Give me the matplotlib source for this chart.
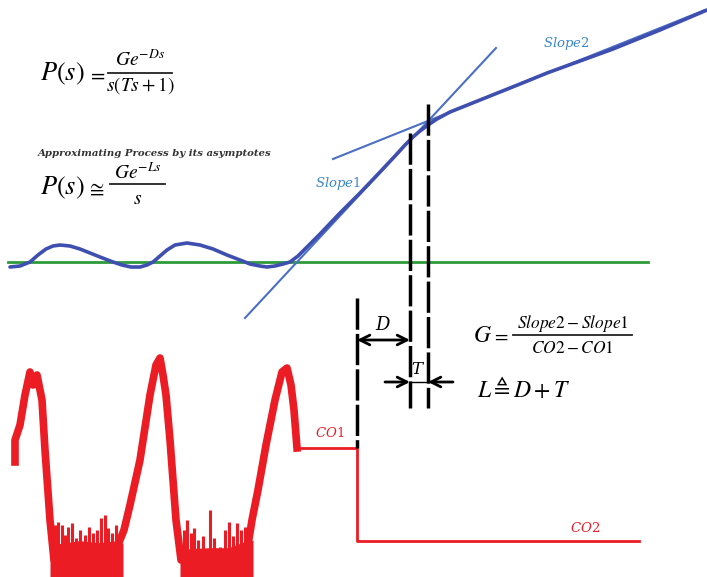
import matplotlib.pyplot as plt

plt.rcParams['mathtext.fontset'] = 'dejavuserif'

# measured process output (blue) - image pixel units
blue_x = [10, 20, 30, 38, 46, 53, 60, 70, 80, 90, 100, 113, 122, 131, 140, 147, 153, 160, 167, 175,
          187, 200, 213, 227, 240, 250, 260, 267, 275, 283, 290, 298, 307, 320, 340, 360, 380, 395,
          405, 413, 420, 428, 437, 450, 465, 480, 500, 520, 547, 580, 613, 660, 707]
blue_y = [267, 266, 262, 255, 249, 246, 245, 246, 249, 253, 257, 262, 265, 267, 267, 265, 262, 256, 250, 245,
          243, 245, 249, 255, 260, 264, 266, 267, 266, 264, 262, 256, 247, 234, 213, 193, 172, 156,
          145, 137, 131, 125, 119, 112, 106, 100, 92, 84, 73, 61, 49, 30, 10]

# asymptotes
slope1_x = [245, 496]
slope1_y = [318, 48]
slope2_x = [333, 705]
slope2_y = [159, 10]

# reference level
green_x = [8, 648]
green_y = [262, 262]

# controller output (red)
red_x = [15, 15, 20, 25, 30, 33, 37, 42, 45, 50, 54, 60, 80, 100, 118, 124, 130, 140, 150, 156, 160, 163,
         166, 170, 176, 181, 190, 210, 230, 248, 252, 258, 266, 275, 282, 287, 291, 294, 297]
red_y = [462, 440, 425, 395, 372, 385, 375, 400, 450, 520, 560, 548, 545, 547, 545, 530, 505, 460, 395,
         365, 358, 375, 395, 440, 520, 560, 553, 552, 552, 545, 520, 490, 445, 400, 372, 368, 385, 410, 448]
floor1_x = [50, 60, 80, 100, 123]
floor1_top = [560, 546, 543, 545, 543]
floor2_x = [180, 190, 210, 230, 253]
floor2_top = [560, 551, 550, 550, 540]
spike_x = [55, 58, 62, 65, 68, 72, 76, 80, 85, 89, 93, 97, 101, 105, 108, 112, 116,
           184, 187, 191, 194, 198, 203, 210, 214, 220, 225, 229, 233, 237, 241, 245]
spike_top = [525, 522, 525, 535, 527, 523, 538, 530, 535, 527, 533, 530, 518, 515, 528, 533, 525,
             530, 520, 533, 528, 540, 536, 510, 538, 547, 530, 522, 536, 523, 530, 527]

step_x = [297, 357, 357, 639]
step_y = [448, 448, 541, 541]

# timing markers
vline_x = [357, 410, 428]
vline_top = [298, 133, 104]
vline_bot = [448, 408, 408]

fig = plt.figure(figsize=(7.07, 5.77), dpi=100)
ax = fig.add_axes([0, 0, 1, 1])
ax.set_xlim(0, 707)
ax.set_ylim(577, 0)
ax.axis('off')

ax.plot(green_x, green_y, color='#2e9a3a', lw=2)
ax.plot(slope1_x, slope1_y, color='#4a6fc4', lw=1.5)
ax.plot(slope2_x, slope2_y, color='#4a6fc4', lw=1.5)
ax.plot(blue_x, blue_y, color='#3f4fb0', lw=2.6, solid_capstyle='round', solid_joinstyle='round')

red = '#ec1c24'
ax.plot(red_x, red_y, color=red, lw=5.5, solid_joinstyle='round')
ax.fill_between(floor1_x, floor1_top, 577, color=red, lw=0)
ax.fill_between(floor2_x, floor2_top, 577, color=red, lw=0)
ax.vlines(spike_x, spike_top, 577, color=red, lw=2.2)
ax.plot(step_x, step_y, color=red, lw=2)

for x, t, b in zip(vline_x, vline_top, vline_bot):
    ax.plot([x, x], [t, b], color='black', lw=2.5, linestyle=(0, (9, 1.2)))

arr = dict(arrowstyle='<->, head_length=0.7, head_width=0.35', lw=2, color='black', shrinkA=0, shrinkB=0)
ax.annotate('', xy=(410, 340), xytext=(357, 340), arrowprops=arr)
one = dict(arrowstyle='->, head_length=0.7, head_width=0.35', lw=2, color='black', shrinkA=0, shrinkB=0)
ax.annotate('', xy=(410, 382), xytext=(385, 382), arrowprops=one)
ax.annotate('', xy=(428, 382), xytext=(453, 382), arrowprops=one)
ax.plot([410, 428], [382, 382], color='black', lw=1)

ax.text(383, 325, '$D$', fontsize=13, ha='center', va='center')
ax.text(418, 369, '$T$', fontsize=12, ha='center', va='center')


def math(x, y, s, size):
    ax.text(x, y, s, fontsize=size, ha='left', va='center', math_fontfamily='stix')


def frac(x0, x1, ybar, num, den, ynum, yden, size):
    cx = (x0 + x1) / 2
    ax.plot([x0, x1], [ybar, ybar], color='#222222', lw=1.3)
    ax.text(cx, ynum, num, fontsize=size, ha='center', va='center', math_fontfamily='stix')
    ax.text(cx, yden, den, fontsize=size, ha='center', va='center', math_fontfamily='stix')


math(40, 74, r'$P(s)$', 19)
math(87, 75, r'$=$', 15)
frac(108, 172, 73, r'$Ge^{-Ds}$', r'$s(Ts+1)$', 60, 86, 14)

ax.text(38, 153, 'Approximating Process by its asymptotes', fontsize=7.3, style='italic',
        weight='bold', family='DejaVu Serif', color='#333333', ha='left', va='center')
math(40, 188, r'$P(s)$', 19)
math(86, 189, r'$\cong$', 15)
frac(110, 165, 184, r'$Ge^{-Ls}$', r'$s$', 173, 198, 14)

math(473, 335, r'$G$', 17)
math(492, 336, r'$=$', 14)
frac(513, 632, 335, r'$Slope2-Slope1$', r'$CO2-CO1$', 323, 348, 12.5)
math(477, 389, r'$L\triangleq D+T$', 17)

ax.text(338, 183, r'$Slope1$', fontsize=9.5, color='#3a86c8', ha='center', va='center')
ax.text(566, 43, r'$Slope2$', fontsize=9.5, color='#3a86c8', ha='center', va='center')
ax.text(330, 433, r'$CO1$', fontsize=9.5, color=red, ha='center', va='center')
ax.text(585, 528, r'$CO2$', fontsize=9.5, color=red, ha='center', va='center')

fig.savefig('out.png', dpi=100)
